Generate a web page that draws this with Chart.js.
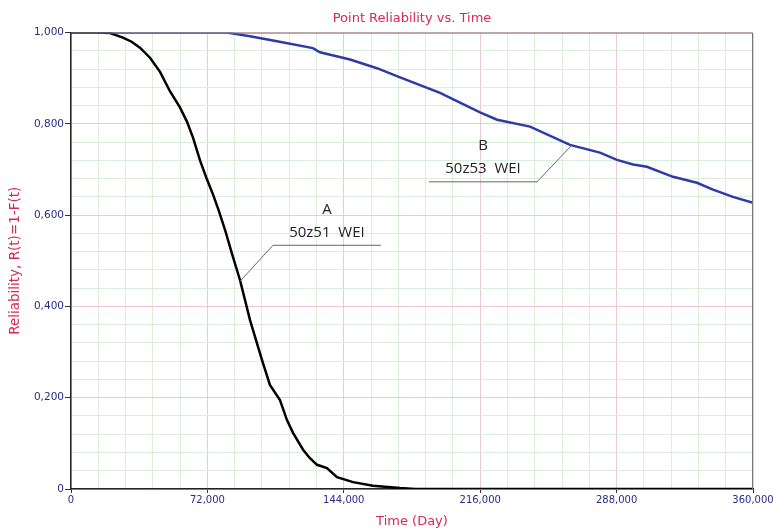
<!DOCTYPE html>
<html>
<head>
<meta charset="utf-8">
<script src="https://cdn.jsdelivr.net/npm/chart.js@4/dist/chart.umd.min.js"></script>
<style>
html,body{margin:0;padding:0;background:#fff;}
#wrap{width:773px;height:529px;position:relative;}
</style>
</head>
<body>
<div id="wrap"><canvas id="c" width="773" height="529"></canvas></div>
<script>
// Curve A (50z51 WEI): time (days) and reliability
const timeA = [0, 13700, 20600, 27400, 32000, 36400, 41700, 47000, 52300, 57500, 61200, 64400, 68100, 71800, 75000, 78000, 81300, 85000, 89200, 94500, 100800, 105000, 110300, 114000, 117200, 122500, 126000, 129900, 135100, 140400, 148900, 159400, 173700, 181600, 360000];
const relA  = [1.000, 1.000, 0.999, 0.989, 0.980, 0.967, 0.945, 0.914, 0.871, 0.836, 0.805, 0.770, 0.720, 0.678, 0.645, 0.610, 0.568, 0.515, 0.458, 0.370, 0.283, 0.228, 0.195, 0.151, 0.123, 0.086, 0.068, 0.053, 0.046, 0.026, 0.015, 0.007, 0.002, 0.000, 0.000];
// Curve B (50z53 WEI)
const timeB = [0, 82300, 94500, 108700, 127700, 131400, 147300, 161500, 173700, 194800, 215900, 224900, 242300, 263400, 279200, 288200, 296700, 304000, 317800, 330400, 338900, 349400, 360000];
const relB  = [1.000, 1.000, 0.992, 0.981, 0.966, 0.957, 0.941, 0.922, 0.902, 0.868, 0.825, 0.809, 0.794, 0.754, 0.737, 0.721, 0.711, 0.706, 0.684, 0.671, 0.656, 0.640, 0.627];
// Axis ticks
const xMajorTicks = [0, 72000, 144000, 216000, 288000, 360000];
const yMajorTicks = [0, 0.2, 0.4, 0.6, 0.8, 1.0];
// Callout labels (anchor points in data units)
const callouts = [
  {name:'A', text:'50z51  WEI', tip:[89200, 0.455], elbow:[106600, 0.534], end:[163600, 0.534]},
  {name:'B', text:'50z53  WEI', tip:[264500, 0.754], elbow:[246000, 0.673], end:[189000, 0.673]}
];

const NAVY = '#2b2b88';
const CRIMSON = '#d42a55';
const isMajorX = v => xMajorTicks.some(m => Math.abs(m - v) < 1);
const isMajorY = v => yMajorTicks.some(m => Math.abs(m - v) < 1e-6);

const calloutPlugin = {
  id: 'callouts',
  afterDatasetsDraw(chart) {
    const {ctx, scales:{x, y}} = chart;
    ctx.save();
    callouts.forEach(c => {
      const tx = x.getPixelForValue(c.tip[0]), ty = y.getPixelForValue(c.tip[1]);
      const ex = x.getPixelForValue(c.elbow[0]), ey = y.getPixelForValue(c.elbow[1]);
      const fx = x.getPixelForValue(c.end[0]), fy = y.getPixelForValue(c.end[1]);
      ctx.strokeStyle = '#666';
      ctx.lineWidth = 1;
      ctx.beginPath();
      ctx.moveTo(tx, ty); ctx.lineTo(ex, ey); ctx.lineTo(fx, fy);
      ctx.stroke();
      const cx = (ex + fx) / 2;
      ctx.fillStyle = '#222';
      ctx.textAlign = 'center';
      ctx.textBaseline = 'middle';
      ctx.font = '15px "Open Sans", sans-serif';
      ctx.fillText(c.name, cx, ey - 36);
      ctx.fillText(c.text, cx, ey - 13);
    });
    ctx.restore();
  }
};

const framePlugin = {
  id: 'frame',
  afterDraw(chart) {
    const {ctx, chartArea:a} = chart;
    ctx.save();
    ctx.strokeStyle = '#777';
    ctx.lineWidth = 1;
    ctx.beginPath();
    ctx.moveTo(a.left, a.top + 0.5); ctx.lineTo(a.right - 0.5, a.top + 0.5); ctx.lineTo(a.right - 0.5, a.bottom);
    ctx.stroke();
    ctx.restore();
  }
};

new Chart(document.getElementById('c'), {
  type: 'line',
  data: {
    datasets: [
      {label:'A', data: timeA.map((t,i)=>({x:t, y:relA[i]})), borderColor:'#000', borderWidth:2.5, pointRadius:0, tension:0, fill:false},
      {label:'B', data: timeB.map((t,i)=>({x:t, y:relB[i]})), borderColor:'#2f3aa6', borderWidth:2.5, pointRadius:0, tension:0, fill:false}
    ]
  },
  options: {
    responsive:false,
    animation:false,
    events:[],
    layout:{padding:{left:0, right:20, top:0, bottom:0}},
    plugins:{
      legend:{display:false},
      tooltip:{enabled:false},
      title:{display:true, text:'Point Reliability vs. Time', color:CRIMSON, fullSize:false,
        font:{family:'"DejaVu Sans", sans-serif', size:13, weight:'normal'}, padding:{top:11, bottom:6}}
    },
    scales:{
      x:{
        type:'linear', min:0, max:360000,
        ticks:{stepSize:14400, autoSkip:false, maxRotation:0, color:NAVY, padding:1,
          font:{family:'"DejaVu Sans", sans-serif', size:10},
          callback:(v)=> isMajorX(v) ? Number(v).toLocaleString('en-US') : ''},
        grid:{color:(c)=> isMajorX(c.tick.value) ? '#eccacf' : '#d9efd9', lineWidth:1, drawTicks:true, tickLength:4,
          tickColor:(c)=> isMajorX(c.tick.value) ? '#333' : 'rgba(0,0,0,0)'},
        border:{color:'#222', width:1.5},
        title:{display:true, text:'Time (Day)', color:CRIMSON, font:{family:'"DejaVu Sans", sans-serif', size:13}, padding:{top:4, bottom:0}},
        afterFit:(s)=>{ s.height = 40; s.paddingRight = 0; s.paddingLeft = 0; }
      },
      y:{
        type:'linear', min:0, max:1,
        ticks:{stepSize:0.04, autoSkip:false, color:NAVY, padding:1,
          font:{family:'"DejaVu Sans", sans-serif', size:10.5},
          callback:(v)=> isMajorY(v) ? (Math.abs(v)<1e-9 ? '0' : Number(v).toFixed(3).replace('.', ',')) : ''},
        grid:{color:(c)=> isMajorY(c.tick.value) ? '#eccacf' : '#d9efd9', lineWidth:1, drawTicks:true, tickLength:6,
          tickColor:(c)=> isMajorY(c.tick.value) ? '#333' : 'rgba(0,0,0,0)'},
        border:{color:'#222', width:1.5},
        title:{display:true, text:'Reliability, R(t)=1-F(t)', color:CRIMSON, font:{family:'"DejaVu Sans", sans-serif', size:13.5}, padding:{top:7, bottom:4}},
        afterFit:(s)=>{ s.width = 71; s.paddingTop = 0; s.paddingBottom = 0; }
      }
    }
  },
  plugins:[calloutPlugin, framePlugin]
});
</script>
</body>
</html>
